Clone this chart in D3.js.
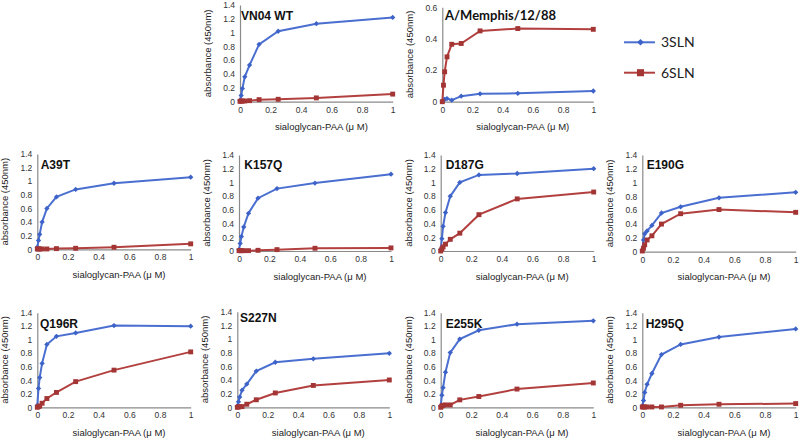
<!DOCTYPE html>
<html><head><meta charset="utf-8">
<script src="https://cdn.jsdelivr.net/npm/d3@7"></script>
<style>body{margin:0;background:#fff} svg{display:block}</style></head>
<body><svg id="c" width="800" height="440"></svg>
<script>
// ---------- data ----------
const conc = [0, 0.0078, 0.0156, 0.03125, 0.0625, 0.125, 0.25, 0.5, 1];
const xTicks = [0, 0.2, 0.4, 0.6, 0.8, 1];
const yTicksFull = [0, 0.2, 0.4, 0.6, 0.8, 1, 1.2, 1.4];
const yTicksSmall = [0, 0.2, 0.4, 0.6];
const seriesNames = ["3SLN", "6SLN"];
const panelTitles = ["VN04 WT", "A/Memphis/12/88", "A39T", "K157Q", "D187G", "E190G",
                     "Q196R", "S227N", "E255K", "H295Q"];
const xTitle = "sialoglycan-PAA (\u03bc M)";
const yTitle = "absorbance (450nm)";

const vn04_3SLN    = [0.02, 0.09, 0.19, 0.36, 0.53, 0.83, 1.02, 1.13, 1.22];
const vn04_6SLN    = [0.005, 0.01, 0.01, 0.01, 0.015, 0.03, 0.035, 0.055, 0.11];
const memphis_3SLN = [0, 0.01, 0.015, 0.02, 0.01, 0.035, 0.05, 0.053, 0.068];
const memphis_6SLN = [0, 0.105, 0.19, 0.285, 0.365, 0.37, 0.45, 0.465, 0.46];
const a39t_3SLN    = [0.03, 0.13, 0.22, 0.4, 0.6, 0.77, 0.88, 0.97, 1.06];
const a39t_6SLN    = [0.005, 0.005, 0.005, 0.005, 0.005, 0.01, 0.015, 0.03, 0.08];
const k157q_3SLN   = [0.02, 0.11, 0.21, 0.35, 0.55, 0.77, 0.91, 0.99, 1.12];
const k157q_6SLN   = [0.005, 0.005, 0.005, 0.005, 0.005, 0.01, 0.02, 0.04, 0.045];
const d187g_3SLN   = [0.02, 0.18, 0.36, 0.56, 0.8, 1.0, 1.11, 1.13, 1.2];
const d187g_6SLN   = [0, 0.03, 0.06, 0.1, 0.17, 0.26, 0.53, 0.76, 0.86];
const e190g_3SLN   = [0.02, 0.17, 0.26, 0.3, 0.38, 0.56, 0.65, 0.78, 0.86];
const e190g_6SLN   = [0.01, 0.05, 0.1, 0.17, 0.23, 0.4, 0.55, 0.61, 0.57];
const q196r_3SLN   = [0.03, 0.28, 0.44, 0.65, 0.93, 1.05, 1.1, 1.21, 1.2];
const q196r_6SLN   = [0, 0.01, 0.02, 0.06, 0.13, 0.22, 0.38, 0.55, 0.82];
const s227n_3SLN   = [0.02, 0.08, 0.15, 0.25, 0.34, 0.53, 0.66, 0.71, 0.79];
const s227n_6SLN   = [0, 0.005, 0.01, 0.01, 0.045, 0.11, 0.21, 0.32, 0.4];
const e255k_3SLN   = [0.02, 0.18, 0.29, 0.52, 0.81, 1.01, 1.14, 1.23, 1.28];
const e255k_6SLN   = [0, 0.02, 0.03, 0.035, 0.035, 0.11, 0.16, 0.27, 0.36];
const h295q_3SLN   = [0.02, 0.1, 0.22, 0.34, 0.5, 0.78, 0.93, 1.04, 1.16];
const h295q_6SLN   = [0.005, 0.005, 0.005, 0.005, 0.005, 0.005, 0.03, 0.045, 0.055];

// ---------- layout (plot boxes and title offsets) ----------
const boxes = [
  {l: 240,   r: 392.7, t: 5,     b: 101.7, yMax: 1.4, ticks: yTicksFull,  tx: 1,   ty: 15},
  {l: 442.3, r: 593.3, t: 7.3,   b: 101.7, yMax: 0.6, ticks: yTicksSmall, tx: 2.7, ty: 12.7},
  {l: 37.3,  r: 190.7, t: 154,   b: 249.3, yMax: 1.4, ticks: yTicksFull,  tx: 3.4, ty: 14.5},
  {l: 239,   r: 391,   t: 155,   b: 251,   yMax: 1.4, ticks: yTicksFull,  tx: 5.3, ty: 13.5},
  {l: 440.7, r: 593.7, t: 155,   b: 251,   yMax: 1.4, ticks: yTicksFull,  tx: 5,   ty: 13.5},
  {l: 642.3, r: 795.7, t: 155,   b: 251.7, yMax: 1.4, ticks: yTicksFull,  tx: 4.4, ty: 14},
  {l: 37.3,  r: 190.7, t: 312.7, b: 407.3, yMax: 1.4, ticks: yTicksFull,  tx: 2.7, ty: 15},
  {l: 237.3, r: 389.3, t: 311.7, b: 407.3, yMax: 1.4, ticks: yTicksFull,  tx: 2.7, ty: 10},
  {l: 440.7, r: 593.3, t: 312.7, b: 407.3, yMax: 1.4, ticks: yTicksFull,  tx: 5,   ty: 15},
  {l: 642.3, r: 795.7, t: 312.7, b: 407.3, yMax: 1.4, ticks: yTicksFull,  tx: 3.4, ty: 15}
];
const seriesA = [vn04_3SLN, memphis_3SLN, a39t_3SLN, k157q_3SLN, d187g_3SLN, e190g_3SLN,
                 q196r_3SLN, s227n_3SLN, e255k_3SLN, h295q_3SLN];
const seriesB = [vn04_6SLN, memphis_6SLN, a39t_6SLN, k157q_6SLN, d187g_6SLN, e190g_6SLN,
                 q196r_6SLN, s227n_6SLN, e255k_6SLN, h295q_6SLN];

const BLUE = "#4a6fd0", BLUE_M = "#3d62c8";
const RED = "#b2403f", RED_M = "#a33535";
const svg = d3.select("#c");

boxes.forEach((bx, i) => {
  const x = d3.scaleLinear().domain([0, 1]).range([bx.l, bx.r]);
  const y = d3.scaleLinear().domain([0, bx.yMax]).range([bx.b, bx.t]);
  const g = svg.append("g");
  const fmt = d => String(+d.toFixed(1));

  const ya = g.append("g").attr("transform", `translate(${bx.l},0)`)
    .call(d3.axisLeft(y).tickValues(bx.ticks).tickSize(0).tickPadding(5).tickFormat(fmt));
  const xa = g.append("g").attr("transform", `translate(0,${bx.b})`)
    .call(d3.axisBottom(x).tickValues(xTicks).tickSize(0).tickPadding(5).tickFormat(fmt));
  [ya, xa].forEach(a => {
    a.select(".domain").attr("stroke", "#8a8a8a").attr("stroke-width", 1.2);
    a.selectAll("text").attr("font-family", "Liberation Sans, Arial, sans-serif")
      .attr("font-size", 8.5).attr("fill", "#333");
  });

  g.append("text").attr("transform", `translate(${bx.l - 32.5},${(bx.t + bx.b) / 2}) rotate(-90)`)
    .attr("text-anchor", "middle").attr("dy", "0.35em")
    .attr("font-family", "Liberation Sans, Arial, sans-serif").attr("font-size", 9.5)
    .attr("fill", "#222").text(yTitle);
  g.append("text").attr("x", (bx.l + bx.r) / 2 + 5).attr("y", bx.b + 28.5)
    .attr("text-anchor", "middle")
    .attr("font-family", "Liberation Sans, Arial, sans-serif").attr("font-size", 9.5)
    .attr("fill", "#222").text(xTitle);

  const isMem = i === 1;
  g.append("text").attr("x", bx.l + bx.tx).attr("y", bx.t + bx.ty)
    .attr("font-family", isMem ? "Lato, sans-serif" : "Liberation Sans, Arial, sans-serif")
    .attr("font-weight", "bold").attr("font-size", isMem ? 13 : 12)
    .attr("fill", "#111").text(panelTitles[i]);

  const line = d3.line().x((d, k) => x(conc[k])).y(d => y(d));
  // 3SLN
  g.append("path").datum(seriesA[i]).attr("d", line).attr("fill", "none")
    .attr("stroke", BLUE).attr("stroke-width", 2);
  g.selectAll(".dA").data(seriesA[i]).enter().append("path")
    .attr("d", d3.symbol(d3.symbolSquare, 14)())
    .attr("transform", (d, k) => `translate(${x(conc[k])},${y(d)}) rotate(45)`)
    .attr("fill", BLUE_M);
  // 6SLN
  g.append("path").datum(seriesB[i]).attr("d", line).attr("fill", "none")
    .attr("stroke", RED).attr("stroke-width", 2);
  g.selectAll(".dB").data(seriesB[i]).enter().append("path")
    .attr("d", d3.symbol(d3.symbolSquare, 24)())
    .attr("transform", (d, k) => `translate(${x(conc[k])},${y(d)})`)
    .attr("fill", RED_M);
});

// ---------- legend ----------
const leg = svg.append("g");
[[BLUE, BLUE_M, 42.3, d3.symbol(d3.symbolSquare, 22)(), 45],
 [RED, RED_M, 72.7, d3.symbol(d3.symbolSquare, 50)(), 0]].forEach((s, k) => {
  leg.append("line").attr("x1", 624).attr("x2", 655).attr("y1", s[2]).attr("y2", s[2])
    .attr("stroke", s[0]).attr("stroke-width", 2);
  leg.append("path").attr("d", s[3])
    .attr("transform", `translate(640.5,${s[2]}) rotate(${s[4]})`).attr("fill", s[1]);
  leg.append("text").attr("x", 661).attr("y", s[2] + 5)
    .attr("font-family", "Lato, sans-serif").attr("font-size", 14).attr("fill", "#222")
    .text(seriesNames[k]);
});
</script></body></html>
